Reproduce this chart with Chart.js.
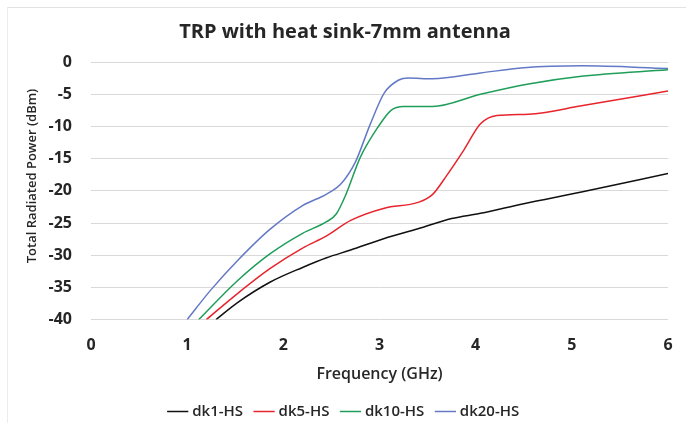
<!DOCTYPE html>
<html>
<head>
<meta charset="utf-8">
<script src="https://cdn.jsdelivr.net/npm/chart.js@4.4.1/dist/chart.umd.min.js"></script>
<style>
  html, body { margin: 0; padding: 0; background: #fff; }
  #wrap { width: 686px; height: 423px; position: relative; }
  #frame { position: absolute; left: 7px; top: 7px; right: -2px; bottom: -2px; border-top: 1px solid #e2e2e2; border-left: 1px solid #ececec; pointer-events: none; }
</style>
</head>
<body>
<div id="wrap"><canvas id="c" width="686" height="423"></canvas><div id="frame"></div></div>
<script>
// Data (GHz, dBm)
const seriesNames = ['dk1-HS', 'dk5-HS', 'dk10-HS', 'dk20-HS'];
const seriesColors = ['#111111', '#e8242c', '#1f9e5a', '#6479c6'];

const freqDk1 = [1.3, 1.52, 1.86, 2.2, 2.45, 2.7, 3.05, 3.4, 3.75, 4.05, 4.5, 5.1, 6.0];
const trpDk1 = [-40, -37.4, -34.2, -31.9, -30.4, -29.2, -27.4, -25.9, -24.3, -23.5, -22.0, -20.2, -17.3];

const freqDk5 = [1.2, 1.52, 1.86, 2.2, 2.45, 2.7, 3.05, 3.4, 3.55, 3.7, 3.88, 4.05, 4.22, 4.55, 5.1, 6.0];
const trpDk5 = [-40, -36, -32.1, -28.9, -27.0, -24.6, -22.7, -21.8, -20.6, -17.6, -13.6, -9.6, -8.3, -8.1, -6.8, -4.5];

const freqDk10 = [1.12, 1.52, 1.86, 2.2, 2.45, 2.55, 2.65, 2.8, 2.98, 3.12, 3.25, 3.55, 4.05, 4.55, 5.1, 6.0];
const trpDk10 = [-40, -34, -29.8, -26.6, -24.8, -23.6, -20.6, -14.8, -10.2, -7.5, -6.9, -6.9, -5.0, -3.4, -2.2, -1.2];

const freqDk20 = [1.0, 1.24, 1.52, 1.86, 2.2, 2.45, 2.6, 2.75, 2.9, 3.05, 3.2, 3.3, 3.55, 4.05, 4.5, 5.1, 6.0];
const trpDk20 = [-40, -35.5, -30.9, -26.0, -22.3, -20.5, -18.9, -15.5, -9.8, -4.8, -2.8, -2.5, -2.6, -1.7, -0.9, -0.6, -1.0];

const xTicks = [0, 1, 2, 3, 4, 5, 6];
const yTicks = [0, -5, -10, -15, -20, -25, -30, -35, -40];

const allFreq = [freqDk1, freqDk5, freqDk10, freqDk20];
const allTrp = [trpDk1, trpDk5, trpDk10, trpDk20];

function pts(xs, ys) {
  return xs.map((x, i) => ({ x: x, y: ys[i] }));
}

const font = "'Open Sans', 'Noto Sans', sans-serif";
const textColor = '#262626';
const yTitle = 'Total Radiated Power (dBm)';

const datasets = seriesNames.map((name, i) => ({
  label: name,
  data: pts(allFreq[i], allTrp[i]),
  borderColor: seriesColors[i],
  backgroundColor: seriesColors[i],
  borderWidth: 1.5,
  pointRadius: 0,
  cubicInterpolationMode: 'monotone',
  fill: false
}));

// y-axis title sits a bit above the plot centre in the original
const yTitlePlugin = {
  id: 'yTitle',
  afterDraw(chart) {
    const ctx = chart.ctx;
    ctx.save();
    ctx.translate(32, 176);
    ctx.rotate(-Math.PI / 2);
    ctx.font = '600 13px ' + font;
    ctx.fillStyle = textColor;
    ctx.textAlign = 'center';
    ctx.textBaseline = 'middle';
    ctx.fillText(yTitle, 0, 0);
    ctx.restore();
  }
};

new Chart(document.getElementById('c').getContext('2d'), {
  type: 'line',
  data: { datasets: datasets },
  plugins: [yTitlePlugin],
  options: {
    responsive: false,
    animation: false,
    layout: { padding: { left: 22, right: 18, top: 10, bottom: -6 } },
    plugins: {
      title: {
        display: true,
        text: 'TRP with heat sink-7mm antenna',
        color: textColor,
        font: { family: font, size: 20, weight: 'bold' },
        padding: { top: 10, bottom: 18 }
      },
      legend: {
        position: 'bottom',
        labels: {
          usePointStyle: true,
          pointStyle: 'line',
          boxWidth: 14,
          color: textColor,
          font: { family: font, size: 15, weight: '600' },
          padding: 14
        }
      },
      tooltip: { enabled: false }
    },
    scales: {
      x: {
        type: 'linear',
        min: 0,
        max: 6,
        afterBuildTicks: s => { s.ticks = xTicks.map(v => ({ value: v })); },
        grid: { display: false },
        border: { display: false },
        ticks: { color: textColor, font: { family: font, size: 16, weight: 'bold' }, padding: 8 },
        title: {
          display: true,
          text: 'Frequency (GHz)',
          color: textColor,
          font: { family: font, size: 16, weight: '600' },
          padding: { top: 2, bottom: 6 }
        }
      },
      y: {
        min: -40,
        max: 0,
        afterBuildTicks: s => { s.ticks = yTicks.map(v => ({ value: v })); },
        afterFit: s => { s.width = 69; },
        grid: { color: '#d9d9d9', lineWidth: 1, drawTicks: false },
        border: { display: false },
        ticks: { color: textColor, font: { family: font, size: 16, weight: 'bold' }, padding: 19 }
      }
    }
  }
});
</script>
</body>
</html>
